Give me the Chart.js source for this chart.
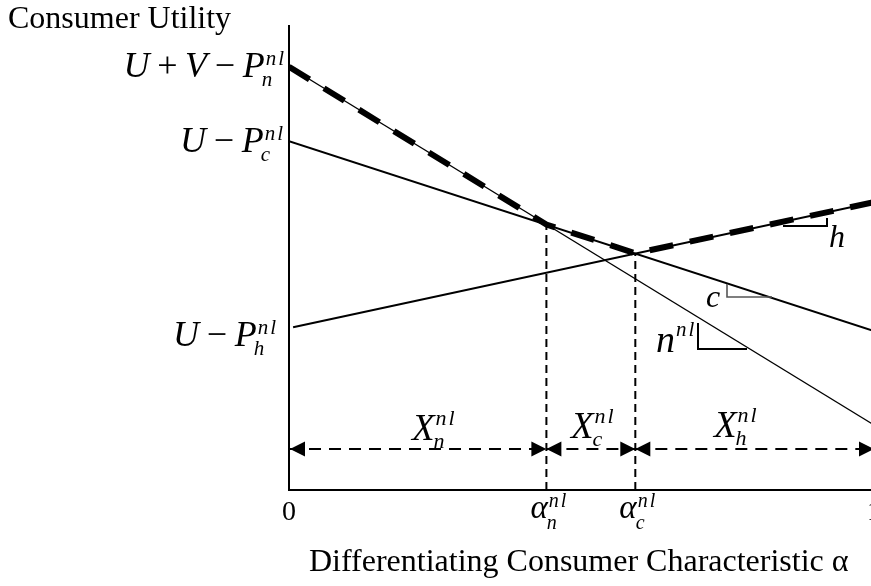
<!DOCTYPE html>
<html>
<head>
<meta charset="utf-8">
<script src="https://cdn.jsdelivr.net/npm/chart.js@4.4.1/dist/chart.umd.min.js"></script>
<style>
  html, body { margin: 0; padding: 0; background: #fff; overflow: hidden; }
  #wrap { width: 884px; height: 586px; position: relative; }
</style>
</head>
<body>
<div id="wrap"><canvas id="c"></canvas></div>
<script>
// ---- data ----
const nLineX = [0, 1];
const nLineY = [9.1, 1.4];
const cLineX = [0, 1];
const cLineY = [7.5, 3.42];
const hLineX = [0.007, 1];
const hLineY = [3.5, 6.19];
const envelopeX = [0, 0.44, 0.592, 1];
const envelopeY = [9.1, 5.71, 5.09, 6.19];
const cutoffX = [0.44, 0.592];
const cutoffTopY = [5.71, 5.09];
const segmentBounds = [0, 0.44, 0.592, 1];
const segmentY = 0.88;
const segmentSubs = ['n', 'c', 'h'];
const xTickValues = [0, 0.44, 0.592, 1];
const xTickLabels = ['0', 'α|n', 'α|c', '1'];
const yTickValues = [9.1, 7.5, 3.5];
const yTickLabels = ['U + V − P|n', 'U − P|c', 'U − P|h'];
const yAxisTitle = 'Consumer Utility';
const xAxisTitle = 'Differentiating Consumer Characteristic α';

const pts = (xs, ys) => xs.map((x, i) => ({ x: x, y: ys[i] }));
const FONT = '"Liberation Serif", "Times New Roman", serif';

const datasets = [
  { data: pts(nLineX, nLineY), borderColor: '#000', borderWidth: 1.3 },
  { data: pts(cLineX, cLineY), borderColor: '#000', borderWidth: 2 },
  { data: pts(hLineX, hLineY), borderColor: '#000', borderWidth: 2 },
  { data: pts(envelopeX, envelopeY), borderColor: '#000', borderWidth: 6, borderDash: [24, 17], borderCapStyle: 'butt' },
];
cutoffX.forEach((x, i) => datasets.push({
  data: [{ x: x, y: 0 }, { x: x, y: cutoffTopY[i] }],
  borderColor: '#000', borderWidth: 2, borderDash: [8, 5]
}));
for (let i = 0; i < segmentBounds.length - 1; i++) {
  datasets.push({
    data: [{ x: segmentBounds[i], y: segmentY }, { x: segmentBounds[i + 1], y: segmentY }],
    borderColor: '#000', borderWidth: 2, borderDash: [12, 8]
  });
}
datasets.forEach(d => { d.pointRadius = 0; d.fill = false; d.tension = 0; });

// draws text char by char with extra spacing, returns width
function spaced(ctx, txt, x, y, gap, draw) {
  let cx = x;
  for (let k = 0; k < txt.length; k++) {
    if (draw) ctx.fillText(txt[k], cx, y);
    cx += ctx.measureText(txt[k]).width + (k < txt.length - 1 ? gap : 0);
  }
  return cx - x;
}
function drawMath(ctx, x, y, parts, draw = true) {
  let cx = x;
  for (const p of parts) {
    if (p.stack) {
      ctx.font = `italic ${p.ss}px ${FONT}`;
      let w = 0;
      if (p.sup) { w = Math.max(w, spaced(ctx, p.sup, cx + (p.supDx || 0), y + p.supDy, 2, draw) + (p.supDx || 0)); }
      if (p.sub) { w = Math.max(w, spaced(ctx, p.sub, cx + (p.subDx || 0), y + p.subDy, 2, draw) + (p.subDx || 0)); }
      cx += w;
    } else {
      ctx.font = `${p.i ? 'italic ' : ''}${p.s}px ${FONT}`;
      if (draw) ctx.fillText(p.t, cx, y);
      cx += ctx.measureText(p.t).width;
    }
  }
  return cx - x;
}
function parseFormula(str, size) {
  const [main, sub] = str.split('|');
  const parts = [];
  const tokens = main.split(' ');
  tokens.forEach((tk, i) => {
    const italic = /[A-Za-zα]/.test(tk);
    parts.push({ t: tk, i: italic, s: size });
    if (i < tokens.length - 1) parts.push({ t: ' ', i: false, s: size * 0.85 });
  });
  parts.push({ stack: true, sup: 'nl', sub: sub, ss: 21, supDy: -12, subDy: 9, supDx: 1, subDx: -3 });
  return parts;
}

const overlay = {
  id: 'overlay',
  afterDatasetsDraw(chart) {
    const ctx = chart.ctx;
    const xs = chart.scales.x, ys = chart.scales.y;
    const X = v => xs.getPixelForValue(v), Y = v => ys.getPixelForValue(v);
    ctx.save();
    ctx.fillStyle = '#000';
    ctx.strokeStyle = '#000';
    ctx.textBaseline = 'alphabetic';
    ctx.textAlign = 'left';

    // axes
    ctx.lineWidth = 2;
    ctx.setLineDash([]);
    ctx.beginPath();
    ctx.moveTo(X(0), ys.top);
    ctx.lineTo(X(0), ys.bottom);
    ctx.lineTo(xs.right, ys.bottom);
    ctx.stroke();

    // arrowheads on the segment markers
    const ay = Y(segmentY);
    const head = (tipX, dir) => {
      ctx.beginPath();
      ctx.moveTo(tipX, ay);
      ctx.lineTo(tipX - dir * 15, ay - 7.5);
      ctx.lineTo(tipX - dir * 15, ay + 7.5);
      ctx.closePath();
      ctx.fill();
    };
    for (let i = 0; i < segmentBounds.length - 1; i++) {
      head(X(segmentBounds[i]) + (i === 0 ? 1 : 0), -1);
      head(X(segmentBounds[i + 1]), 1);
    }

    // segment labels X_k^nl
    const segLabelPos = [[412, 440], [571, 438], [714, 437]];
    segmentSubs.forEach((s, i) => {
      const parts = [{ t: 'X', i: true, s: 37 },
        { stack: true, sup: 'nl', sub: s, ss: 22, supDy: -15, subDy: 8, supDx: 1, subDx: -1 }];
      drawMath(ctx, segLabelPos[i][0], segLabelPos[i][1], parts);
    });

    // y tick labels
    const yLabelRight = [284, 283, 276];
    const yLabelDy = [10, 11, 19];
    yTickValues.forEach((v, i) => {
      const parts = parseFormula(yTickLabels[i], 36);
      const w = drawMath(ctx, 0, 0, parts, false);
      drawMath(ctx, yLabelRight[i] - w, Y(v) + yLabelDy[i], parts);
    });

    // x tick labels
    xTickValues.forEach((v, i) => {
      const lab = xTickLabels[i];
      const px = X(v);
      if (lab.indexOf('|') < 0) {
        ctx.font = `28px ${FONT}`;
        ctx.textAlign = 'center';
        ctx.fillText(lab, px, 520);
        ctx.textAlign = 'left';
      } else {
        const [m, s] = lab.split('|');
        const parts = [{ t: m, i: true, s: 33 },
          { stack: true, sup: 'nl', sub: s, ss: 20, supDy: -11, subDy: 11, supDx: 1, subDx: -1 }];
        drawMath(ctx, px - 16, 518, parts);
      }
    });

    // axis titles
    ctx.font = `32px ${FONT}`;
    ctx.fillText(yAxisTitle, 8, 28);
    ctx.fillText(xAxisTitle, 309, 571);

    // slope triangles
    ctx.setLineDash([]);
    ctx.lineWidth = 2;
    ctx.strokeStyle = '#000';
    ctx.beginPath();
    ctx.moveTo(783, 226); ctx.lineTo(827, 226); ctx.lineTo(827, 218);
    ctx.stroke();
    ctx.strokeStyle = '#555';
    ctx.lineWidth = 1.6;
    ctx.beginPath();
    ctx.moveTo(727, 284); ctx.lineTo(727, 297); ctx.lineTo(772, 297);
    ctx.stroke();
    ctx.strokeStyle = '#000';
    ctx.lineWidth = 2;
    ctx.beginPath();
    ctx.moveTo(698, 323); ctx.lineTo(698, 349); ctx.lineTo(747, 349);
    ctx.stroke();
    ctx.font = `italic 32px ${FONT}`;
    ctx.fillText('h', 829, 247);
    ctx.fillText('c', 706, 307);
    drawMath(ctx, 656, 352, [{ t: 'n', i: true, s: 38 },
      { stack: true, sup: 'nl', ss: 21, supDy: -16, supDx: 1 }]);

    ctx.restore();
  }
};

new Chart(document.getElementById('c'), {
  type: 'line',
  data: { datasets: datasets },
  options: {
    responsive: true,
    maintainAspectRatio: false,
    animation: false,
    layout: { padding: { left: 289, right: 10, top: 25, bottom: 96 } },
    plugins: { legend: { display: false }, tooltip: { enabled: false } },
    scales: {
      x: { type: 'linear', min: 0, max: 1, display: false },
      y: { type: 'linear', min: 0, max: 10, display: false }
    }
  },
  plugins: [overlay]
});
</script>
</body>
</html>
